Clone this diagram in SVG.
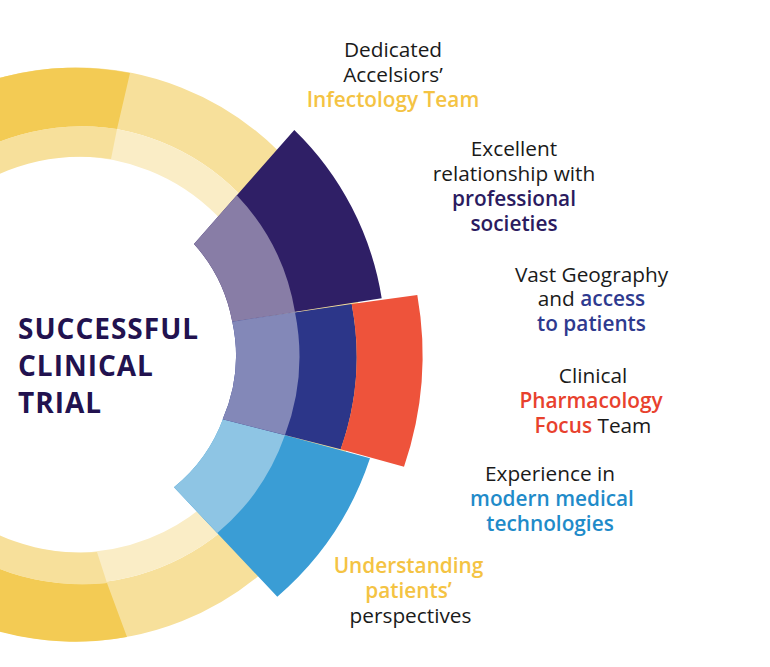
<svg xmlns="http://www.w3.org/2000/svg" width="770" height="667" viewBox="0 0 770 667">
<style>
  .lbl { font-family: "Open Sans", "Noto Sans", "Liberation Sans", sans-serif; font-size: 20.8px; fill: #1a1a1a; text-anchor: middle; }
  .em { font-weight: 600; }
  .yel { fill: #F4C343; }
  .pur { fill: #2B1B60; }
  .nav { fill: #2E3A8F; }
  .red { fill: #E8412D; }
  .blu { fill: #1F8BC9; }
  .title { font-family: "Open Sans", "Noto Sans", "Liberation Sans", sans-serif; font-size: 28px; font-weight: 700; fill: #22124F; letter-spacing: 1px; }
</style>
<rect width="770" height="667" fill="#FFFFFF"/>

<g id="ring">
  <circle cx="76" cy="354.5" r="258" fill="none" stroke="#F7E09B" stroke-width="58"/>
  <circle cx="76" cy="354.5" r="213.5" fill="none" stroke="#FAEDC6" stroke-width="31"/>
  <path d="M130,73 A287,287 0 1 0 127,637 L107,583 A229,229 0 1 1 117,129 Z" fill="#F3CB54"/>
  <path d="M117,129 A229,229 0 1 0 107,583 L97,552 A198,198 0 1 1 111,159 Z" fill="#F7E09B"/>
</g>

<g id="seg-purple">
  <path d="M294.3,130 A300,300 0 0 1 381.7,298.3 L232.3,321.7 A160,160 0 0 0 194,244 Z" fill="#2F1F66"/>
  <path d="M194,244 L236.8,195.2 A223,223 0 0 1 295,311.9 L232.3,321.7 A160,160 0 0 0 194,244 Z" fill="#887DA6"/>
</g>

<g id="seg-blue">
  <path d="M223.3,418.3 L370,458.3 A312,312 0 0 1 277.3,596.7 L174,487.3 A160,160 0 0 0 223.3,418.3 Z" fill="#3A9DD5"/>
  <path d="M223.3,418.3 L285,435.1 A224,224 0 0 1 217.3,533 L174,487.3 A160,160 0 0 0 223.3,418.3 Z" fill="#8EC5E4"/>
</g>

<g id="seg-navy">
  <path d="M232.3,321.7 L351.7,304 A280,280 0 0 1 340.7,449.3 L222.7,419.3 A160,160 0 0 0 232.3,321.7 Z" fill="#2C3689"/>
  <path d="M232.3,321.7 L295,312.2 A223,223 0 0 1 285,435 L222.7,419.3 A160,160 0 0 0 232.3,321.7 Z" fill="#8388B8"/>
</g>

<g id="seg-red">
  <path d="M351.7,304 L417.3,295 A347,347 0 0 1 404,466.7 L340.7,449.3 A280,280 0 0 0 351.7,304 Z" fill="#EE533B"/>
</g>

<g id="center-label">
  <text class="title" x="18" y="339.3">SUCCESSFUL</text>
  <text class="title" x="18" y="376">CLINICAL</text>
  <text class="title" x="18" y="412.7">TRIAL</text>
</g>

<g id="label-infectology">
  <text class="lbl" x="393" y="57.3">Dedicated</text>
  <text class="lbl" x="393" y="82.3">Accelsiors’</text>
  <text class="lbl em yel" x="393" y="106.7">Infectology Team</text>
</g>

<g id="label-societies">
  <text class="lbl" x="514" y="156">Excellent</text>
  <text class="lbl" x="514" y="180.7">relationship with</text>
  <text class="lbl em pur" x="514" y="206">professional</text>
  <text class="lbl em pur" x="514" y="230.7">societies</text>
</g>

<g id="label-geography">
  <text class="lbl" x="591.5" y="281.7">Vast Geography</text>
  <text class="lbl" x="591.5" y="306">and <tspan class="em nav">access</tspan></text>
  <text class="lbl em nav" x="591.5" y="331">to patients</text>
</g>

<g id="label-pharmacology">
  <text class="lbl" x="593" y="383.3">Clinical</text>
  <text class="lbl em red" x="591" y="407.7">Pharmacology</text>
  <text class="lbl" x="593" y="432.7"><tspan class="em red">Focus</tspan> Team</text>
</g>

<g id="label-technologies">
  <text class="lbl" x="550" y="480.7">Experience in</text>
  <text class="lbl em blu" x="552" y="506">modern medical</text>
  <text class="lbl em blu" x="550" y="531">technologies</text>
</g>

<g id="label-patients">
  <text class="lbl em yel" x="408.5" y="573.3">Understanding</text>
  <text class="lbl em yel" x="408.5" y="598.3">patients’</text>
  <text class="lbl" x="410.5" y="623.3">perspectives</text>
</g>
</svg>
